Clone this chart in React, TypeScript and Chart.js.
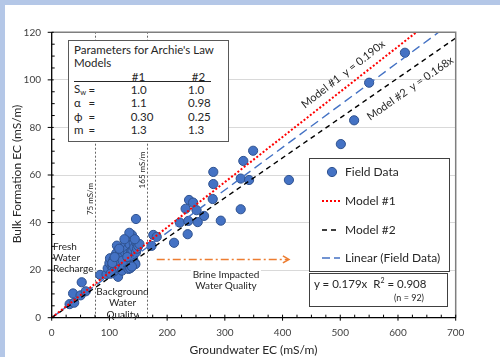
import React, { useEffect, useRef } from "react";
import { Chart, registerables } from "chart.js";

Chart.register(...registerables);

// ---------- DATA ----------
const fieldX = [
  612, 550, 524, 501, 411, 349, 332, 280, 327.5, 342, 280, 279, 238, 245, 232, 251, 327.5, 264, 222, 236.7,
  253, 293, 235.6, 212, 176, 182, 173,
  31, 39, 37, 50, 52, 59,
  84, 95, 115,
  97, 100, 101, 104, 106, 107, 108, 110, 111, 112, 113, 114, 116, 118, 119, 120, 121, 122, 124, 125,
  126, 127, 128, 129, 130, 131, 132, 133, 134, 135, 136, 137, 138, 139, 140, 141, 142, 143, 144, 145,
  146, 147, 148, 150, 152, 134.5, 146,
  102, 105, 109, 117, 123, 126, 131, 144, 139,
];
const fieldY = [
  111.4, 98.8, 83, 73, 57.9, 70.2, 65.9, 61.3, 58.5, 57.9, 56.2, 49.9, 49.5, 48.4, 45.8, 45.2, 45.6, 42.8, 40, 40.7,
  40.2, 40.8, 35.1, 31.5, 34.8, 34, 30.2,
  5.7, 6.3, 10.2, 9.4, 14.9, 11.1,
  18, 18.2, 17.2,
  20.8, 23, 25, 21.5, 20.8, 24.3, 19.5, 22.6, 26.5, 27.1, 30.3, 21, 23.8, 20.8, 23.6, 25.5, 28.5, 19.8, 26.4, 22,
  30, 27.5, 31.3, 24.5, 22.9, 28.8, 26.8, 20.5, 26, 30.9, 20.8, 24, 28, 34.8, 28.2, 25, 31.5, 29.5, 23.1, 22.5,
  27.5, 31.3, 29, 30.2, 31, 35.7, 41.5,
  18.5, 23, 25.5, 29, 24, 33, 25.5, 33, 21.5,
];
const model1Line = [[0, 0], [631.6, 120]]; // y = 0.190x
const model2Line = [[0, 0], [700, 117.6]]; // y = 0.168x
const linearLine = [[0, 0], [670.4, 120]]; // y = 0.179x
const xTicks = [0, 100, 200, 300, 400, 500, 600, 700];
const yTicks = [0, 20, 40, 60, 80, 100, 120];
const markerLines = [75, 165];
const brineArrow = [[182, 24.5], [411, 24.5]];

const FONT = "Lato, 'Open Sans', sans-serif";

const toPts = (arr: number[][]) => arr.map(([x, y]) => ({ x, y }));

const line = (ctx: CanvasRenderingContext2D, x1: number, y1: number, x2: number, y2: number) => {
  ctx.beginPath();
  ctx.moveTo(x1, y1);
  ctx.lineTo(x2, y2);
  ctx.stroke();
};

const axesPlugin = {
  id: "customAxes",
  beforeDatasetsDraw(chart: any) {
    const { ctx, scales } = chart;
    const x = scales.x, y = scales.y;
    ctx.save();
    ctx.strokeStyle = "#666666";
    ctx.lineWidth = 1;
    ctx.setLineDash([2, 2]);
    for (const v of markerLines) {
      const px = Math.round(x.getPixelForValue(v)) + 0.5;
      line(ctx, px, y.getPixelForValue(0), px, y.getPixelForValue(120));
    }
    const x1 = x.getPixelForValue(brineArrow[0][0]);
    const y1 = y.getPixelForValue(brineArrow[0][1]);
    const x2 = x.getPixelForValue(brineArrow[1][0]);
    ctx.strokeStyle = "#ed7d31";
    ctx.lineWidth = 1.6;
    ctx.setLineDash([8, 3, 2, 3]);
    line(ctx, x1, y1, x2 - 1, y1);
    ctx.setLineDash([]);
    ctx.beginPath();
    ctx.moveTo(x2 - 6, y1 - 3.5);
    ctx.lineTo(x2, y1);
    ctx.lineTo(x2 - 6, y1 + 3.5);
    ctx.stroke();
    ctx.restore();
  },
  afterDatasetsDraw(chart: any) {
    const { ctx, chartArea: a, scales } = chart;
    const x = scales.x, y = scales.y;
    ctx.save();
    ctx.setLineDash([]);
    ctx.strokeStyle = "#7f7f7f";
    ctx.lineWidth = 1.5;
    ctx.beginPath();
    ctx.moveTo(a.left, a.top);
    ctx.lineTo(a.right, a.top);
    ctx.lineTo(a.right, a.bottom);
    ctx.stroke();
    ctx.strokeStyle = "#000";
    ctx.lineWidth = 1.3;
    ctx.beginPath();
    ctx.moveTo(a.left, a.top);
    ctx.lineTo(a.left, a.bottom);
    ctx.lineTo(a.right, a.bottom);
    ctx.stroke();
    ctx.lineWidth = 1;
    for (const v of yTicks) {
      const p = y.getPixelForValue(v);
      line(ctx, a.left - 4, p, a.left + 2, p);
    }
    for (let v = 5; v < 120; v += 5) {
      if (v % 20 === 0) continue;
      const p = y.getPixelForValue(v);
      line(ctx, a.left, p, a.left + 3, p);
    }
    for (const v of xTicks) {
      const p = x.getPixelForValue(v);
      line(ctx, p, a.bottom - 3, p, a.bottom + 3);
    }
    for (let v = 25; v < 700; v += 25) {
      if (v % 100 === 0) continue;
      const p = x.getPixelForValue(v);
      line(ctx, p, a.bottom - 3, p, a.bottom);
    }
    ctx.restore();
  },
};

const T = ({ x, y, size = 10, align = "left", color = "#262626", rotate = 0, children, style = {} }: any) => {
  const tx = align === "center" ? "-50%" : align === "right" ? "-100%" : "0";
  return (
    <div
      style={{
        position: "absolute",
        left: x,
        top: y,
        transform: `translate(${tx},-50%)${rotate ? ` rotate(${rotate}deg)` : ""}`,
        transformOrigin: "center center",
        fontSize: size,
        lineHeight: 1.1,
        whiteSpace: "nowrap",
        color,
        fontFamily: FONT,
        ...style,
      }}
    >
      {children}
    </div>
  );
};

const TS = 11.5;

export default function App() {
  const canvasRef = useRef<HTMLCanvasElement | null>(null);

  useEffect(() => {
    if (!canvasRef.current) return;
    const pts = fieldX.map((xv, i) => ({ x: xv, y: fieldY[i] }));
    const chart = new Chart(canvasRef.current, {
      type: "scatter",
      data: {
        datasets: [
          {
            label: "Model #1",
            data: toPts(model1Line),
            showLine: true,
            borderColor: "#ff0000",
            borderWidth: 2,
            borderDash: [2, 2],
            pointRadius: 0,
            order: 0,
          },
          {
            label: "Model #2",
            data: toPts(model2Line),
            showLine: true,
            borderColor: "#000000",
            borderWidth: 1.4,
            borderDash: [5, 4],
            pointRadius: 0,
            order: 0,
          },
          {
            label: "Linear (Field Data)",
            data: toPts(linearLine),
            showLine: true,
            borderColor: "#4472c4",
            borderWidth: 1.4,
            borderDash: [9, 5],
            pointRadius: 0,
            order: 0,
          },
          {
            label: "Field Data",
            data: pts,
            backgroundColor: "#4472c4",
            borderColor: "#2f528f",
            borderWidth: 1,
            pointRadius: 4.6,
            order: 1,
          },
        ],
      } as any,
      options: {
        animation: false,
        responsive: false,
        maintainAspectRatio: false,
        layout: { padding: { left: 0, top: 32.3, right: 44.3, bottom: 0 } },
        plugins: { legend: { display: false }, tooltip: { enabled: false } },
        scales: {
          x: {
            type: "linear",
            min: 0,
            max: 700,
            afterFit: (s: any) => { s.height = 39.3; },
            grid: { display: false, drawTicks: false },
            border: { display: false },
            ticks: { stepSize: 100, padding: 9, color: "#404040", font: { size: 10, family: FONT } },
          },
          y: {
            type: "linear",
            min: 0,
            max: 120,
            afterFit: (s: any) => { s.width = 51.7; },
            grid: { color: "#d9d9d9", drawTicks: false, lineWidth: 1 },
            border: { display: false },
            ticks: { stepSize: 20, padding: 10.7, color: "#404040", font: { size: 10, family: FONT } },
          },
        },
      } as any,
      plugins: [axesPlugin],
    });
    return () => chart.destroy();
  }, []);

  return (
    <div style={{ position: "fixed", left: 0, top: 0, width: 500, height: 357, background: "#b4c7e7", overflow: "hidden" }}>
      <div style={{ position: "absolute", left: 5, top: 5, right: 0, bottom: 0, background: "#fff" }} />
      <canvas ref={canvasRef} width={500} height={357} style={{ position: "absolute", left: 0, top: 0, width: 500, height: 357 }} />

      {/* axis titles */}
      <T x={16.7} y={174.4} size={12} align="center" rotate={-90} color="#262626">Bulk Formation EC (mS/m)</T>
      <T x={253.5} y={350} size={12} align="center" color="#262626">Groundwater EC (mS/m)</T>

      {/* marker line labels */}
      <T x={89.5} y={199} size={8} align="center" rotate={-90}>75 mS/m</T>
      <T x={141.7} y={170} size={8} align="center" rotate={-90}>165 mS/m</T>

      {/* model labels */}
      <T x={343} y={74} size={11} align="center" rotate={-38}>Model #1&nbsp; y = 0.190x</T>
      <T x={410} y={88} size={11} align="center" rotate={-35}>Model #2&nbsp; y = 0.168x</T>

      {/* region labels */}
      <T x={53} y={246} size={10}>Fresh</T>
      <T x={53} y={257.3} size={10}>Water</T>
      <T x={53} y={268.3} size={10}>Recharge</T>
      <T x={122.5} y={290.7} size={10} align="center">Background</T>
      <T x={122.5} y={301.7} size={10} align="center">Water</T>
      <T x={122.5} y={313.5} size={10} align="center">Quality</T>
      <div style={{ position: "absolute", left: 191, top: 264, width: 70, height: 29, background: "#fff" }} />
      <T x={226} y={273.5} size={10} align="center">Brine Impacted</T>
      <T x={226} y={284.5} size={10} align="center">Water Quality</T>

      {/* parameter table */}
      <div style={{ position: "absolute", left: 68, top: 40, width: 161, height: 102, boxSizing: "border-box", border: "1px solid #595959", background: "#fff" }} />
      <T x={74} y={50} size={TS}>Parameters for Archie's Law</T>
      <T x={74} y={63.3} size={TS}>Models</T>
      <T x={138.5} y={76.7} size={TS} align="center">#1</T>
      <T x={198.5} y={76.7} size={TS} align="center">#2</T>
      <div style={{ position: "absolute", left: 74, top: 81, width: 137, height: 1, background: "#262626" }} />
      <T x={74} y={90} size={TS}>S<sub style={{ fontSize: 7.5, verticalAlign: "-2px" }}>w</sub></T>
      <T x={74} y={103.3} size={TS}>α</T>
      <T x={74} y={116.7} size={TS}>ϕ</T>
      <T x={74} y={130} size={TS}>m</T>
      <T x={88.5} y={90} size={TS}>=</T>
      <T x={88.5} y={103.3} size={TS}>=</T>
      <T x={88.5} y={116.7} size={TS}>=</T>
      <T x={88.5} y={130} size={TS}>=</T>
      <T x={130.7} y={90} size={TS}>1.0</T>
      <T x={130.7} y={103.3} size={TS}>1.1</T>
      <T x={130.7} y={116.7} size={TS}>0.30</T>
      <T x={130.7} y={130} size={TS}>1.3</T>
      <T x={188} y={90} size={TS}>1.0</T>
      <T x={188} y={103.3} size={TS}>0.98</T>
      <T x={188} y={116.7} size={TS}>0.25</T>
      <T x={188} y={130} size={TS}>1.3</T>

      {/* legend */}
      <div style={{ position: "absolute", left: 309, top: 158, width: 141, height: 114, boxSizing: "border-box", border: "1px solid #404040", background: "#fff" }} />
      <svg style={{ position: "absolute", left: 0, top: 0 }} width={500} height={357}>
        <circle cx={332} cy={172} r={4.6} fill="#4472c4" stroke="#2f528f" strokeWidth={1} />
        <line x1={322} y1={201} x2={340} y2={201} stroke="#ff0000" strokeWidth={2} strokeDasharray="2 2" />
        <line x1={322} y1={230} x2={340} y2={230} stroke="#000" strokeWidth={1.4} strokeDasharray="5 4" />
        <line x1={322} y1={258} x2={340} y2={258} stroke="#4472c4" strokeWidth={1.4} strokeDasharray="8 4" />
      </svg>
      <T x={345} y={172} size={12}>Field Data</T>
      <T x={345} y={201} size={12}>Model #1</T>
      <T x={345} y={230} size={12}>Model #2</T>
      <T x={345} y={258} size={12}>Linear (Field Data)</T>

      {/* equation box */}
      <div style={{ position: "absolute", left: 309, top: 273, width: 139, height: 34, boxSizing: "border-box", border: "1px solid #404040", background: "#fff" }} />
      <T x={314} y={284.3} size={11.5}>y = 0.179x&nbsp; R<sup style={{ fontSize: 7, verticalAlign: "5px" }}>2</sup> = 0.908</T>
      <T x={394} y={298} size={9}>(n = 92)</T>
    </div>
  );
}
